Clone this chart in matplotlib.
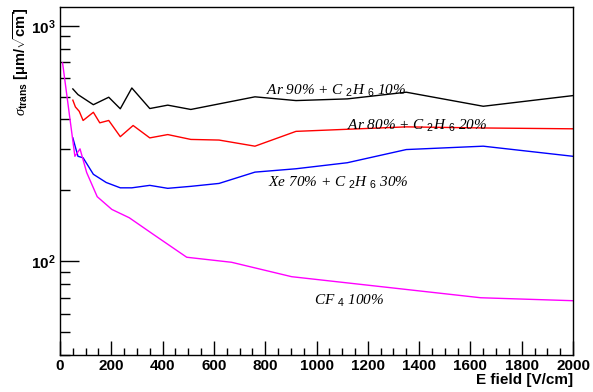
import matplotlib
matplotlib.use("Agg")
import matplotlib.pyplot as plt
from matplotlib.ticker import FixedLocator, LogLocator, NullFormatter, MultipleLocator

plt.rcParams['mathtext.fontset'] = 'custom'
plt.rcParams['mathtext.rm'] = 'Liberation Sans'
plt.rcParams['mathtext.bf'] = 'Liberation Sans:bold'
plt.rcParams['mathtext.it'] = 'Liberation Serif:italic'
plt.rcParams['mathtext.sf'] = 'Liberation Sans'

# transverse diffusion vs drift field
ar90_x = [50, 70, 130, 190, 235, 280, 350, 420, 510, 760, 920, 1120, 1350, 1650, 2000]
ar90_y = [539, 510, 462, 497, 444, 544, 445, 460, 441, 499, 481, 489, 522, 455, 505]

ar80_x = [50, 60, 75, 90, 130, 155, 190, 235, 285, 350, 420, 510, 620, 760, 920, 1350, 1650, 2000]
ar80_y = [483, 452, 433, 396, 429, 387, 396, 338, 377, 334, 345, 329, 327, 308, 356, 372, 368, 365]

xe70_x = [50, 70, 90, 130, 180, 235, 280, 350, 420, 510, 620, 760, 920, 1120, 1350, 1650, 2000]
xe70_y = [334, 279, 275, 234, 216, 205, 205, 210, 204, 208, 214, 239, 247, 262, 298, 308, 279]

cf4_x = [10, 58, 78, 104, 145, 202, 270, 364, 494, 669, 903, 1640, 2000]
cf4_y = [695, 279, 300, 238, 188, 166, 153, 130, 104, 99, 86, 70, 68]

fig = plt.figure(figsize=(5.93, 3.92), dpi=100)
ax = fig.add_axes([0.1012, 0.0944, 0.8651, 0.8876])

ax.plot(ar90_x, ar90_y, color='black', lw=1)
ax.plot(ar80_x, ar80_y, color='#ff0000', lw=1)
ax.plot(xe70_x, xe70_y, color='#0000ff', lw=1)
ax.plot(cf4_x, cf4_y, color='#ff00ff', lw=1)

ax.set_yscale('log')
ax.set_xlim(0, 2000)
ax.set_ylim(40, 1200)

lab = dict(fontsize=11, family='Liberation Serif', style='italic', ha='center', va='baseline')
sub = lambda d: r'$_{\mathit{%s}}$' % d
ax.text(1076, 510, 'Ar 90% + C ' + sub(2) + 'H ' + sub(6) + ' 10%', **lab)
ax.text(1392, 362, 'Ar 80% + C ' + sub(2) + 'H ' + sub(6) + ' 20%', **lab)
ax.text(1086, 207, 'Xe 70% + C ' + sub(2) + 'H ' + sub(6) + ' 30%', **lab)
ax.text(1129, 65.5, 'CF ' + sub(4) + ' 100%', **lab)

ax.xaxis.set_major_locator(MultipleLocator(200))
ax.xaxis.set_minor_locator(MultipleLocator(50))
ax.yaxis.set_major_locator(FixedLocator([100, 1000]))
ax.yaxis.set_minor_locator(LogLocator(base=10, subs=range(2, 10)))
ax.yaxis.set_minor_formatter(NullFormatter())
ax.set_yticklabels([r'$\mathbf{10^{2}}$', r'$\mathbf{10^{3}}$'])

ax.tick_params(which='both', direction='in', top=False, right=False, width=1)
ax.tick_params(axis='x', which='major', length=10, pad=3)
ax.tick_params(axis='x', which='minor', length=5)
ax.tick_params(axis='y', which='major', length=14, pad=3)
ax.tick_params(axis='y', which='minor', length=7)
for t in ax.get_xticklabels() + ax.get_yticklabels():
    t.set_fontfamily('Liberation Sans')
    t.set_fontweight('bold')
    t.set_fontsize(11)

for s in ax.spines.values():
    s.set_linewidth(1)

ax.set_xlabel('E field [V/cm]', loc='right', fontsize=11, fontweight='bold',
              family='Liberation Sans', labelpad=0)
ax.set_ylabel(r'$\sigma_{\mathbf{trans}}$ $\mathbf{[\mu m/\sqrt{cm}]}$', loc='top',
              fontsize=10.5, family='Liberation Sans')
ax.yaxis.set_label_coords(-0.056, 1.0)

fig.savefig('out.png', dpi=100)
